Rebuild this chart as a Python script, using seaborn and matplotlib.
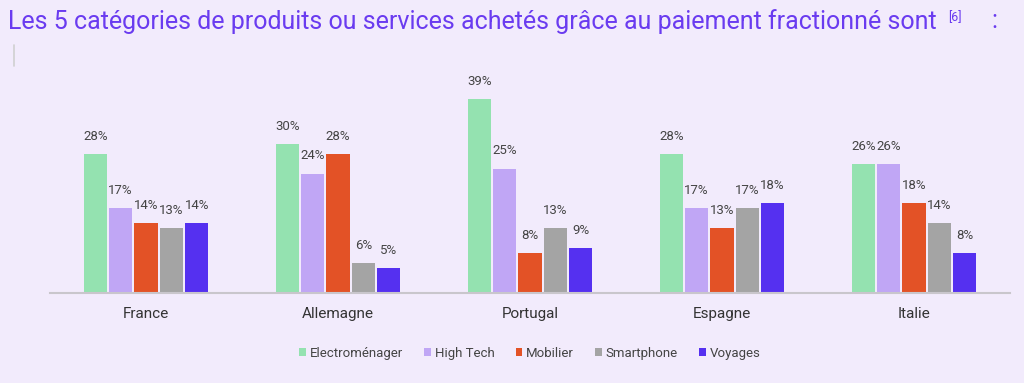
import pandas as pd
import seaborn as sns
import matplotlib.pyplot as plt
from matplotlib.lines import Line2D

countries = ['France', 'Allemagne', 'Portugal', 'Espagne', 'Italie']
categories = ['Electroménager', 'High Tech', 'Mobilier', 'Smartphone', 'Voyages']
electromenager = [28, 30, 39, 28, 26]
high_tech = [17, 24, 25, 17, 26]
mobilier = [14, 28, 8, 13, 18]
smartphone = [13, 6, 13, 17, 14]
voyages = [14, 5, 9, 18, 8]

colors = ['#94E2B0', '#C0A6F5', '#E35226', '#A4A4A4', '#5530F0']
bg = '#F2EBFC'

series = [electromenager, high_tech, mobilier, smartphone, voyages]
rows = []
for cat, vals in zip(categories, series):
    for country, v in zip(countries, vals):
        rows.append({'pays': country, 'categorie': cat, 'valeur': v})
df = pd.DataFrame(rows)

sns.set_theme(style='white')
plt.rcParams['font.family'] = ['Roboto', 'DejaVu Sans']

fig = plt.figure(figsize=(10.24, 3.83), dpi=100, facecolor=bg)
ax = fig.add_axes([50 / 1024, 1 - 293 / 383, 960 / 1024, 209 / 383])
ax.set_facecolor(bg)

sns.barplot(df, x='pays', y='valeur', hue='categorie', order=countries,
            hue_order=categories, palette=colors, width=0.66, gap=0.08,
            saturation=1, linewidth=0, ax=ax)

for cont in ax.containers:
    ax.bar_label(cont, fmt='%g%%', padding=8, fontsize=9.5, color='#444444')

ax.set_xlim(-0.5, 4.5)
ax.set_ylim(0, 42)
ax.set_xlabel('')
ax.set_ylabel('')
ax.set_yticks([])
ax.tick_params(axis='x', length=0, pad=10, labelsize=11, labelcolor='#333333')
for side in ['top', 'right', 'left']:
    ax.spines[side].set_visible(False)
ax.spines['bottom'].set_color('#C9C6CC')
ax.spines['bottom'].set_linewidth(1.5)

ax.legend(loc='upper center', bbox_to_anchor=(0.5, -0.2), ncol=5, frameon=False,
          fontsize=9.5, handlelength=0.5, handleheight=0.5, handletextpad=0.3,
          columnspacing=1.6, labelcolor='#444444')

title = 'Les 5 catégories de produits ou services achetés grâce au paiement fractionné sont'
fig.text(0.008, 0.945, title, fontsize=18, color='#6A3BF0', va='center', ha='left')
fig.text(0.926, 0.955, '[6]', fontsize=9, color='#6A3BF0', va='center', ha='left')
fig.text(0.968, 0.945, ':', fontsize=18, color='#6A3BF0', va='center', ha='left')
fig.add_artist(Line2D([14 / 1024, 14 / 1024], [1 - 45 / 383, 1 - 66 / 383],
                      color='#D0D0D0', linewidth=1.2))

fig.savefig('out.png', dpi=100, facecolor=bg)
